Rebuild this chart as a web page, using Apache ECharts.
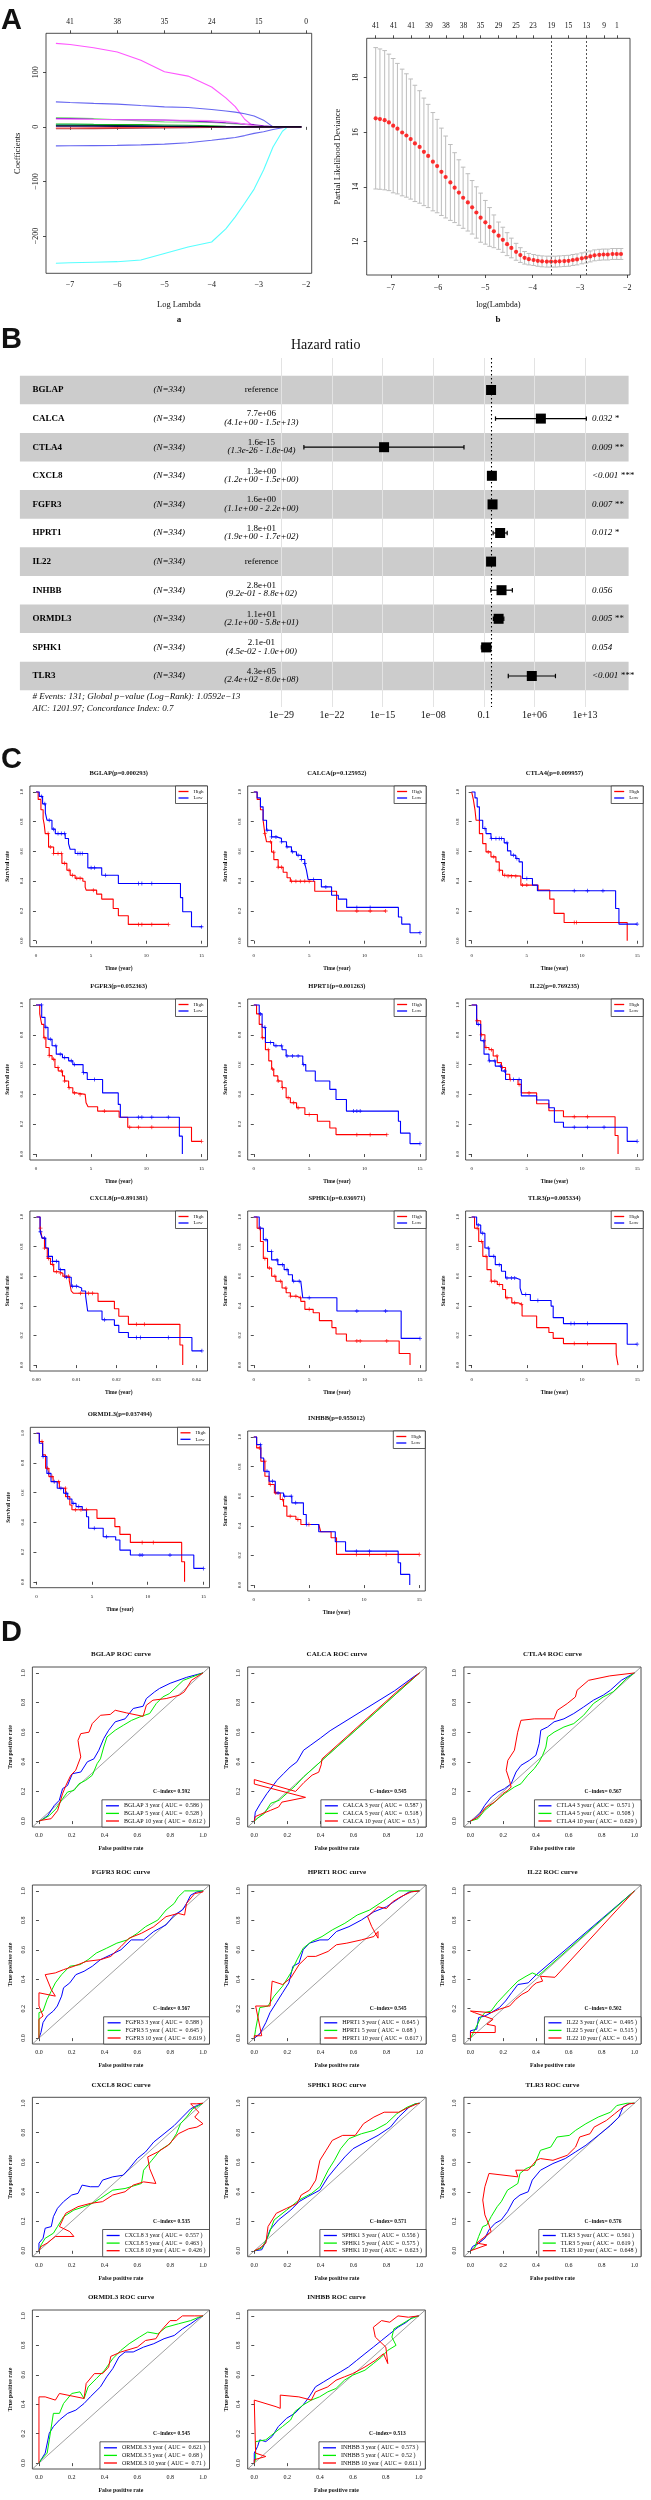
<!DOCTYPE html>
<html><head><meta charset="utf-8">
<script src="https://cdn.jsdelivr.net/npm/echarts@6/dist/echarts.min.js"></script>
<style>html,body{margin:0;padding:0;background:#fff}#c{width:651px;height:2500px}</style>
</head><body><div id="c"></div>
<script>
// ---------------- DATA: Panel A (LASSO) ----------------
const lassoLogLambda = [-7.3,-7.0,-6.5,-6.0,-5.5,-5.0,-4.5,-4.0,-3.7,-3.5,-3.3,-3.1,-2.9,-2.7,-2.5,-2.4,-2.3,-2.1];
const coefMagenta  = [153,151,145,137,122,101,93,73,53,37,14,0,0,0,0,0,0,0];
const coefBlueUp   = [45.8,44.5,43,41.6,39,36.6,35.4,31.8,29,27,24,20,12.3,0,0,0,0,0];
const coefCyan     = [-250,-249,-248,-247,-244,-232,-220,-211,-187,-165,-140,-114,-79,-37,-8,-1,0,0];
const coefBlueDown = [-34.8,-34.6,-34.3,-34,-33,-31.7,-29,-24.4,-21.5,-19.5,-16,-12,-9,-4.8,-1.5,0,0,0];
const coefGreen    = [17.2,16.5,15,13,11,9.2,8.5,8,6.5,5.5,4.5,3,1,0,0,0,0,0];
const coefPurple   = [15.4,15,14,13.5,13,12.3,11,9.2,7.5,6.5,5,4,2,0.5,0,0,0,0];
const coefPink     = [14,13.8,13.5,13,12.5,12,12,11.5,10,8,5,2,0,0,0,0,0,0];
const coefTeal     = [3.5,3.3,3,2.5,2,1.5,1,0.5,0,0,0,0,0,0,0,0,0,0];
const coefBlack    = [2,2,2,1.8,1.5,1.2,1,0.5,0.2,0,0,0,0,0,0,0,0,0];
const coefDarkRed  = [-3.5,-3.4,-3.2,-3,-2.5,-2,-1.5,-1,-0.5,0,0,0,0,0,0,0,0,0];
const coefRed      = [-2,-2,-1.8,-1.5,-1.2,-1,-0.8,-0.5,0,0,0,0,0,0,0,0,0,0];
const coefGreen2   = [5,5,4.5,4.2,4,3.5,3,2,1,0.5,0,0,0,0,0,0,0,0];
const coefNavy     = [1,1,1,0.9,0.8,0.7,0.5,0.3,0,0,0,0,0,0,0,0,0,0];
const lassoTopAt = [-7,-6,-5,-4,-3,-2];
const lassoTopDf = ['41','38','35','24','15','0'];

const cvLogLambda = [-7.32,-7.23,-7.13,-7.04,-6.95,-6.86,-6.76,-6.67,-6.58,-6.49,-6.39,-6.30,-6.21,-6.11,-6.02,-5.93,-5.84,-5.74,-5.65,-5.56,-5.47,-5.37,-5.28,-5.19,-5.10,-5.00,-4.91,-4.82,-4.72,-4.63,-4.54,-4.45,-4.35,-4.26,-4.17,-4.08,-3.98,-3.89,-3.80,-3.70,-3.61,-3.52,-3.43,-3.33,-3.24,-3.15,-3.06,-2.96,-2.87,-2.78,-2.69,-2.59,-2.50,-2.41,-2.31,-2.22,-2.13];
const cvDeviance = [16.51,16.48,16.44,16.36,16.24,16.13,15.99,15.88,15.75,15.59,15.46,15.28,15.13,14.92,14.76,14.55,14.36,14.16,13.97,13.79,13.60,13.43,13.25,13.06,12.87,12.70,12.53,12.37,12.21,12.06,11.90,11.76,11.62,11.50,11.40,11.35,11.32,11.29,11.27,11.26,11.26,11.26,11.27,11.28,11.29,11.32,11.34,11.38,11.41,11.45,11.49,11.51,11.52,11.52,11.54,11.54,11.54];
const cvHalfWidth = [2.59,2.57,2.55,2.50,2.46,2.39,2.32,2.26,2.20,2.13,2.06,1.97,1.89,1.80,1.71,1.60,1.50,1.39,1.28,1.20,1.12,1.05,0.98,0.94,0.90,0.80,0.71,0.60,0.50,0.46,0.42,0.36,0.31,0.27,0.23,0.21,0.20,0.20,0.20,0.20,0.20,0.20,0.20,0.20,0.20,0.20,0.20,0.20,0.20,0.20,0.20,0.20,0.20,0.20,0.20,0.20,0.20];
const cvLambdaMin = -3.60, cvLambda1se = -2.87;
const cvTopAt = [-7.32,-6.94,-6.57,-6.19,-5.83,-5.46,-5.10,-4.72,-4.35,-3.99,-3.60,-3.24,-2.86,-2.49,-2.22];
const cvTopDf = ['41','41','41','39','38','38','35','29','25','23','19','15','13','9','1'];

// ---------------- DATA: Panel B (forest) ----------------
const fGenes = ['BGLAP','CALCA','CTLA4','CXCL8','FGFR3','HPRT1','IL22','INHBB','ORMDL3','SPHK1','TLR3'];
const fN = 334;
const fHR   = [1, 7.7e6, 1.6e-15, 1.3, 1.6, 18, 1, 28, 11, 0.21, 4.3e5];
const fLow  = [null, 4.1, 1.3e-26, 1.2, 1.1, 1.9, null, 0.92, 2.1, 0.045, 240];
const fHigh = [null, 1.5e13, 1.8e-4, 1.5, 2.2, 170, null, 880, 58, 1.0, 8.0e8];
const fHRText = ['reference','7.7e+06','1.6e-15','1.3e+00','1.6e+00','1.8e+01','reference','2.8e+01','1.1e+01','2.1e-01','4.3e+05'];
const fCIText = ['','(4.1e+00 - 1.5e+13)','(1.3e-26 - 1.8e-04)','(1.2e+00 - 1.5e+00)','(1.1e+00 - 2.2e+00)','(1.9e+00 - 1.7e+02)','','(9.2e-01 - 8.8e+02)','(2.1e+00 - 5.8e+01)','(4.5e-02 - 1.0e+00)','(2.4e+02 - 8.0e+08)'];
const fP = ['','0.032 *','0.009 **','<0.001 ***','0.007 **','0.012 *','','0.056','0.005 **','0.054','<0.001 ***'];
const fTicks = [-29,-22,-15,-8,-1,6,13];
const fTickLabels = ['1e\u221229','1e\u221222','1e\u221215','1e\u221208','0.1','1e+06','1e+13'];
const fFoot1 = '# Events: 131; Global p\u2212value (Log\u2212Rank): 1.0592e\u221213';
const fFoot2 = 'AIC: 1201.97; Concordance Index: 0.7';

// ---------------- DATA: Panel C (KM) ----------------
const kmGenes = ['BGLAP','CALCA','CTLA4','FGFR3','HPRT1','IL22','CXCL8','SPHK1','TLR3','ORMDL3','INHBB'];
const kmP = ['0.000293','0.125952','0.009957','0.052363','0.001263','0.769235','0.891381','0.036971','0.005334','0.037494','0.955012'];
const kmBGLAPHigh = [[0,1],[0.2,0.95],[0.45,0.88],[0.65,0.82],[0.75,0.78],[0.84,0.72],[1.14,0.63],[1.6,0.586],[2.35,0.52],[2.8,0.474],[3.1,0.44],[3.55,0.42],[4.25,0.40],[4.46,0.36],[4.55,0.34],[5.5,0.313],[5.96,0.28],[7.0,0.217],[7.47,0.168],[8.37,0.11],[12.0,0.11]];
const kmBGLAPLow = [[0,1],[0.3,0.97],[0.6,0.92],[0.85,0.86],[1.0,0.81],[1.45,0.75],[1.75,0.72],[2.65,0.687],[2.95,0.653],[3.1,0.615],[3.55,0.586],[4.7,0.49],[5.96,0.44],[7.47,0.385],[13.1,0.29],[13.3,0.195],[14.1,0.094],[15.06,0.094]];
const kmCALCAHigh = [[0,1],[0.3,0.95],[0.6,0.88],[0.84,0.81],[1.0,0.72],[1.15,0.665],[1.6,0.596],[1.81,0.545],[2.2,0.494],[2.65,0.46],[3.0,0.423],[3.3,0.40],[5.5,0.333],[7.47,0.20],[11.9,0.20]];
const kmCALCALow = [[0,1],[0.3,0.96],[0.6,0.9],[0.84,0.81],[1.15,0.743],[1.6,0.698],[2.05,0.688],[2.5,0.665],[2.95,0.631],[3.4,0.598],[3.85,0.575],[4.3,0.546],[4.6,0.519],[4.75,0.475],[4.9,0.412],[6.1,0.362],[7.02,0.306],[7.63,0.28],[8.38,0.224],[13.05,0.16],[13.35,0.112],[14.1,0.054],[15.0,0.054]];
const kmCTLA4High = [[0,1],[0.15,0.95],[0.3,0.88],[0.4,0.81],[0.7,0.72],[1.0,0.653],[1.3,0.597],[1.75,0.564],[2.2,0.53],[2.5,0.474],[2.8,0.44],[3.25,0.434],[4.46,0.374],[6.02,0.34],[7.08,0.28],[7.47,0.184],[8.38,0.123],[14.1,0.0]];
const kmCTLA4Low = [[0,1],[0.3,0.96],[0.5,0.9],[0.7,0.81],[1.0,0.754],[1.3,0.72],[1.75,0.687],[2.95,0.658],[3.25,0.604],[3.55,0.575],[4.0,0.553],[4.3,0.53],[4.6,0.418],[5.51,0.374],[5.96,0.336],[13.05,0.217],[13.35,0.112],[15.0,0.112]];
const kmFGFR3High = [[0,1],[0.34,0.94],[0.52,0.87],[0.71,0.78],[0.9,0.715],[1.2,0.66],[1.46,0.636],[1.72,0.58],[2.02,0.557],[2.4,0.524],[2.59,0.49],[2.96,0.445],[3.34,0.41],[3.71,0.40],[4.46,0.39],[4.54,0.344],[4.72,0.317],[5.59,0.288],[7.54,0.247],[8.32,0.18],[14.1,0.085],[15.0,0.085]];
const kmFGFR3Low = [[0,1],[0.52,0.917],[0.82,0.85],[1.09,0.77],[1.46,0.726],[1.84,0.67],[2.4,0.647],[2.96,0.625],[3.34,0.60],[4.27,0.546],[4.65,0.50],[6.04,0.41],[7.46,0.333],[7.65,0.247],[13.0,0.12],[13.27,0.0]];
const kmHPRT1High = [[0,1],[0.25,0.94],[0.49,0.87],[0.75,0.78],[1.05,0.70],[1.35,0.625],[1.61,0.57],[1.8,0.524],[2.17,0.49],[2.55,0.445],[2.92,0.378],[3.3,0.344],[3.86,0.31],[4.61,0.265],[5.74,0.22],[6.86,0.175],[7.42,0.13],[12.0,0.13]];
const kmHPRT1Low = [[0,1],[0.49,0.94],[0.75,0.85],[1.05,0.748],[1.8,0.726],[2.55,0.70],[2.92,0.658],[4.42,0.60],[4.69,0.557],[5.55,0.49],[6.86,0.434],[7.42,0.366],[8.36,0.288],[13.05,0.22],[13.24,0.14],[14.1,0.07],[15.0,0.07]];
const kmIL22High = [[0,1],[0.45,0.894],[0.82,0.80],[1.2,0.715],[1.57,0.70],[1.95,0.658],[2.32,0.613],[2.7,0.58],[3.07,0.535],[3.45,0.50],[4.2,0.467],[4.5,0.41],[5.89,0.337],[7.0,0.29],[8.32,0.25],[13.0,0.124],[13.27,0.0]];
const kmIL22Low = [[0,1],[0.45,0.87],[0.82,0.76],[1.12,0.67],[1.57,0.625],[2.14,0.59],[2.7,0.557],[3.07,0.50],[4.5,0.39],[5.89,0.362],[7.0,0.31],[7.5,0.213],[8.32,0.18],[14.1,0.085],[15.0,0.085]];
const kmCXCL8High = [[0,1],[0.0009,0.924],[0.0014,0.857],[0.002,0.79],[0.0027,0.72],[0.0035,0.68],[0.0043,0.63],[0.0056,0.62],[0.0066,0.60],[0.0082,0.57],[0.0087,0.50],[0.0092,0.485],[0.0154,0.43],[0.0195,0.38],[0.0206,0.33],[0.023,0.275],[0.0359,0.136],[0.0366,0.0]];
const kmCXCL8Low = [[0,1],[0.0009,0.90],[0.0014,0.857],[0.0023,0.79],[0.003,0.734],[0.004,0.70],[0.0056,0.644],[0.0071,0.593],[0.0087,0.532],[0.0102,0.52],[0.0113,0.50],[0.0123,0.465],[0.0128,0.365],[0.0164,0.306],[0.0195,0.268],[0.0206,0.22],[0.023,0.186],[0.0389,0.096],[0.0414,0.096]];
const kmSPHK1High = [[0,1],[0.3,0.924],[0.6,0.834],[0.86,0.72],[1.24,0.655],[1.61,0.60],[1.99,0.566],[2.55,0.52],[2.92,0.488],[3.3,0.465],[3.86,0.454],[4.24,0.43],[4.61,0.376],[5.36,0.353],[5.92,0.30],[7.05,0.253],[7.42,0.21],[8.36,0.163],[13.12,0.078],[14.1,0.0]];
const kmSPHK1Low = [[0,1],[0.49,0.924],[0.86,0.846],[1.24,0.767],[1.61,0.71],[2.17,0.678],[2.74,0.644],[3.11,0.61],[3.49,0.566],[4.24,0.555],[4.42,0.454],[7.5,0.365],[13.3,0.18],[15.0,0.18]];
const kmTLR3High = [[0,1],[0.26,0.924],[0.64,0.834],[1.01,0.734],[1.39,0.644],[1.76,0.566],[2.32,0.544],[2.81,0.51],[3.07,0.454],[3.64,0.42],[4.2,0.41],[4.57,0.331],[5.89,0.253],[7.0,0.22],[7.39,0.18],[8.32,0.145],[13.1,0.07],[13.27,0.0]];
const kmTLR3Low = [[0,1],[0.45,0.946],[0.82,0.89],[1.2,0.79],[1.57,0.734],[2.14,0.678],[2.7,0.633],[3.07,0.588],[4.01,0.577],[4.39,0.52],[4.57,0.476],[5.32,0.436],[7.2,0.398],[7.39,0.32],[8.32,0.28],[14.1,0.141],[15.0,0.141]];
const kmORMDL3High = [[0,1],[0.26,0.944],[0.56,0.854],[0.82,0.764],[1.12,0.708],[1.5,0.674],[2.06,0.63],[2.62,0.573],[3.0,0.517],[3.19,0.485],[5.44,0.427],[7.05,0.371],[7.5,0.319],[8.44,0.265],[13.05,0.135],[13.31,0.0]];
const kmORMDL3Low = [[0,1],[0.26,0.933],[0.56,0.843],[0.94,0.73],[1.31,0.674],[1.87,0.63],[2.44,0.596],[2.81,0.557],[3.19,0.528],[3.56,0.506],[4.12,0.483],[4.5,0.438],[4.69,0.36],[6.0,0.303],[7.12,0.281],[7.5,0.213],[8.44,0.18],[14.14,0.09],[15.0,0.09]];
const kmINHBBHigh = [[0,1],[0.26,0.926],[0.64,0.836],[1.01,0.735],[1.39,0.679],[1.87,0.622],[2.4,0.578],[2.7,0.533],[3.0,0.465],[3.82,0.443],[4.27,0.409],[5.89,0.404],[6.07,0.36],[7.01,0.319],[7.5,0.207],[15.0,0.207]];
const kmINHBBLow = [[0,1],[0.26,0.948],[0.64,0.858],[0.9,0.768],[1.39,0.701],[1.95,0.622],[2.7,0.60],[3.45,0.555],[4.5,0.476],[4.76,0.409],[5.89,0.36],[7.39,0.292],[8.32,0.229],[13.09,0.151],[13.31,0.072],[14.14,0.0]];
// censoring times
const cenBGLAPHigh = [1.1,1.3,1.6,2.0,2.3,2.6,3.0,3.3,3.7,4.0,5.2,9.3,9.6,10.5,12.0];
const cenBGLAPLow = [0.5,0.8,1.2,1.6,2.0,2.3,2.6,3.8,4.0,4.2,5.0,5.3,6.3,9.3,9.6,10.5,15.0];
const cenCALCAHigh = [1.0,1.5,1.8,2.2,2.5,3.4,3.8,4.2,4.6,5.0,9.3,10.5,11.9];
const cenCALCALow = [1.2,1.6,2.0,2.5,3.0,3.5,4.0,4.3,4.6,5.4,6.5,9.3,10.5,15.0];
const cenCTLA4High = [1.5,2.0,2.5,3.0,3.3,3.6,4.0,4.6,5.0,9.3,9.5];
const cenCTLA4Low = [1.2,1.8,2.2,2.5,2.7,3.2,3.8,4.1,5.0,9.3,10.5,11.9,15.0];
const cenFGFR3High = [0.8,1.2,1.6,2.0,2.3,2.6,3.0,3.5,4.0,6.2,8.5,9.3,10.5,15.0];
const cenFGFR3Low = [0.5,0.9,1.3,1.8,2.2,2.6,3.2,3.5,4.3,5.3,9.3,9.6,10.5,12.0];
const cenHPRT1High = [0.8,1.3,1.7,2.2,2.6,3.1,3.6,4.0,5.0,9.3,10.5,12.0];
const cenHPRT1Low = [0.6,1.0,1.5,2.0,2.5,3.0,3.5,4.0,4.5,9.0,9.3,9.6,15.0];
const cenIL22High = [0.5,0.9,1.3,1.8,2.3,2.8,3.5,4.3,5.2,9.3,10.5];
const cenIL22Low = [0.6,1.1,1.6,2.1,2.6,3.0,3.8,4.3,9.3,10.5,12.0,15.0];
const cenCXCL8High = [0.001,0.002,0.003,0.004,0.005,0.006,0.007,0.008,0.011,0.013,0.014,0.025,0.027];
const cenCXCL8Low = [0.001,0.002,0.003,0.004,0.005,0.006,0.0075,0.009,0.01,0.017,0.025,0.026,0.033,0.0414];
const cenSPHK1High = [0.5,1.0,1.4,1.9,2.4,2.9,3.3,3.8,4.2,5.0,9.3,9.6,12.0];
const cenSPHK1Low = [0.6,1.1,1.6,2.1,2.6,3.0,3.6,4.1,5.0,9.3,11.9,15.0];
const cenTLR3High = [0.5,0.9,1.3,1.8,2.1,2.5,3.2,3.9,4.5,9.3,10.5];
const cenTLR3Low = [0.6,1.0,1.5,2.0,2.5,3.2,3.6,3.9,4.9,6.0,9.0,9.3,10.5,15.0];
const cenORMDL3High = [0.5,1.0,1.4,2.0,2.6,3.5,4.0,4.5,9.5,10.5];
const cenORMDL3Low = [0.6,1.1,1.6,2.2,2.7,3.3,3.8,5.2,6.3,9.3,9.5,12.0,15.0];
const cenINHBBHigh = [0.5,1.0,1.5,2.0,2.6,3.3,4.0,5.0,9.3,10.5,12.0,15.0];
const cenINHBBLow = [0.6,1.2,1.7,2.2,2.8,3.4,3.8,4.8,9.3,10.5];

// ---------------- DATA: Panel D (ROC) ----------------
const rocGenes = ['BGLAP','CALCA','CTLA4','FGFR3','HPRT1','IL22','CXCL8','SPHK1','TLR3','ORMDL3','INHBB'];
const rocAUC = [[0.586,0.528,0.612],[0.587,0.518,0.5],[0.571,0.508,0.629],[0.588,0.645,0.619],[0.645,0.68,0.617],[0.495,0.515,0.45],[0.557,0.463,0.426],[0.556,0.575,0.623],[0.561,0.619,0.648],[0.621,0.68,0.71],[0.573,0.52,0.611]];
const rocCIndex = ['0.592','0.545','0.567','0.567','0.545','0.502','0.535','0.571','0.576','0.545','0.513'];
const rocBGLAP3 = [[0,0],[0.014,0.005],[0.054,0.038],[0.094,0.106],[0.124,0.14],[0.144,0.219],[0.174,0.24],[0.204,0.32],[0.255,0.331],[0.295,0.40],[0.335,0.42],[0.365,0.478],[0.395,0.557],[0.425,0.613],[0.465,0.67],[0.525,0.69],[0.575,0.76],[0.635,0.775],[0.655,0.827],[0.705,0.872],[0.735,0.895],[0.8,0.93],[0.9,0.97],[1,1]];
const rocBGLAP5 = [[0,0],[0.014,0.005],[0.064,0.038],[0.104,0.083],[0.144,0.151],[0.174,0.196],[0.214,0.207],[0.244,0.252],[0.285,0.275],[0.325,0.309],[0.355,0.388],[0.375,0.42],[0.395,0.50],[0.415,0.568],[0.465,0.613],[0.515,0.647],[0.565,0.68],[0.615,0.703],[0.675,0.726],[0.715,0.793],[0.755,0.838],[0.795,0.86],[0.88,0.95],[1,1]];
const rocBGLAP10 = [[0,0],[0.014,0.005],[0.074,0.016],[0.114,0.072],[0.144,0.185],[0.164,0.24],[0.194,0.309],[0.224,0.343],[0.255,0.433],[0.244,0.50],[0.238,0.545],[0.255,0.59],[0.305,0.60],[0.325,0.658],[0.375,0.714],[0.435,0.72],[0.465,0.748],[0.535,0.73],[0.635,0.707],[0.655,0.782],[0.695,0.816],[0.776,0.827],[0.856,0.85],[0.886,0.872],[0.93,0.95],[1,1]];
const rocCALCA3 = [[0,0],[0.006,0.06],[0.036,0.117],[0.076,0.185],[0.107,0.23],[0.137,0.275],[0.177,0.32],[0.217,0.365],[0.258,0.40],[0.298,0.478],[0.338,0.51],[0.40,0.56],[0.459,0.61],[0.85,0.88],[0.96,0.97],[1,1]];
const rocCALCA5 = [[0,0],[0.02,0.02],[0.06,0.05],[0.1,0.12],[0.15,0.14],[0.2,0.19],[0.25,0.24],[0.3,0.3],[0.4,0.4],[0.88,0.88],[1,1]];
const rocCALCA10 = [[0,0],[0.006,0.03],[0.036,0.045],[0.097,0.072],[0.147,0.095],[0.167,0.128],[0.31,0.16],[0.0,0.25],[0.0,0.28],[0.25,0.2],[0.3,0.26],[0.35,0.31],[0.39,0.33],[0.405,0.38],[0.41,0.42],[0.87,0.88],[1,1]];
const rocCTLA43 = [[0,0],[0.026,0.016],[0.056,0.05],[0.087,0.106],[0.127,0.162],[0.167,0.196],[0.208,0.219],[0.248,0.252],[0.278,0.331],[0.308,0.376],[0.359,0.41],[0.399,0.444],[0.419,0.523],[0.429,0.613],[0.47,0.635],[0.51,0.67],[0.57,0.69],[0.63,0.726],[0.69,0.77],[0.75,0.816],[0.81,0.85],[0.853,0.883],[0.92,0.95],[1,1]];
const rocCTLA45 = [[0,0],[0.046,0.016],[0.087,0.072],[0.147,0.128],[0.208,0.185],[0.268,0.23],[0.308,0.252],[0.349,0.309],[0.389,0.354],[0.419,0.40],[0.44,0.444],[0.46,0.50],[0.47,0.568],[0.51,0.60],[0.57,0.635],[0.63,0.658],[0.69,0.714],[0.75,0.793],[0.81,0.838],[0.87,0.872],[0.95,0.96],[1,1]];
const rocCTLA410 = [[0,0],[0.046,0.027],[0.097,0.095],[0.147,0.128],[0.198,0.185],[0.228,0.207],[0.248,0.23],[0.238,0.275],[0.218,0.343],[0.228,0.41],[0.268,0.478],[0.288,0.60],[0.308,0.68],[0.389,0.69],[0.51,0.69],[0.53,0.748],[0.59,0.793],[0.64,0.838],[0.65,0.883],[0.72,0.95],[0.85,0.98],[1,1]];
const rocFGFR33 = [[0,0],[0.012,0.038],[0.025,0.106],[0.05,0.15],[0.088,0.184],[0.112,0.218],[0.138,0.285],[0.15,0.342],[0.188,0.375],[0.225,0.431],[0.275,0.454],[0.325,0.488],[0.375,0.533],[0.438,0.566],[0.5,0.6],[0.563,0.667],[0.638,0.667],[0.7,0.724],[0.775,0.769],[0.825,0.836],[0.875,0.87],[0.9,0.915],[0.925,0.971],[0.963,0.993],[1,1]];
const rocFGFR35 = [[0,0],[0,0.173],[0.025,0.184],[0.05,0.263],[0.075,0.319],[0.1,0.375],[0.138,0.431],[0.188,0.488],[0.25,0.499],[0.3,0.533],[0.35,0.578],[0.413,0.611],[0.475,0.645],[0.538,0.667],[0.6,0.712],[0.65,0.757],[0.725,0.802],[0.775,0.87],[0.825,0.915],[0.85,0.96],[0.888,1.0],[0.95,1.0],[1,1]];
const rocFGFR310 = [[0,0],[0,0.128],[0.025,0.15],[0,0.218],[0,0.308],[0.1,0.285],[0.075,0.33],[0.038,0.431],[0.1,0.443],[0.15,0.465],[0.213,0.488],[0.288,0.521],[0.375,0.533],[0.438,0.555],[0.5,0.622],[0.55,0.679],[0.625,0.712],[0.7,0.757],[0.775,0.825],[0.85,0.847],[0.888,0.836],[0.9,0.915],[0.95,0.982],[1.0,0.993],[1,1]];
const rocHPRT13 = [[0,0],[0.033,0.027],[0.07,0.106],[0.095,0.173],[0.133,0.24],[0.171,0.308],[0.209,0.375],[0.234,0.488],[0.271,0.51],[0.296,0.6],[0.334,0.645],[0.397,0.667],[0.447,0.667],[0.497,0.724],[0.573,0.757],[0.648,0.802],[0.724,0.858],[0.8,0.892],[0.874,0.948],[0.937,0.993],[1,1]];
const rocHPRT15 = [[0,0],[0.008,0.06],[0.033,0.207],[0.083,0.218],[0.12,0.285],[0.171,0.353],[0.221,0.443],[0.259,0.533],[0.296,0.611],[0.347,0.656],[0.41,0.69],[0.472,0.735],[0.548,0.78],[0.623,0.836],[0.698,0.87],[0.774,0.926],[0.849,0.982],[0.874,1.0],[1,1]];
const rocHPRT110 = [[0,0],[0,0.016],[0.045,0.016],[0.008,0.218],[0.095,0.218],[0.108,0.387],[0.171,0.364],[0.221,0.409],[0.271,0.499],[0.322,0.555],[0.372,0.555],[0.447,0.589],[0.497,0.634],[0.56,0.645],[0.648,0.667],[0.724,0.69],[0.749,0.724],[0.749,0.679],[0.711,0.757],[0.686,0.825],[0.749,0.892],[0.8,0.88],[0.837,0.926],[0.887,0.96],[0.95,0.993],[1,1]];
const rocIL223 = [[0,0],[0,0.05],[0.038,0.06],[0.05,0.14],[0.088,0.15],[0.126,0.173],[0.176,0.207],[0.214,0.252],[0.251,0.308],[0.289,0.364],[0.352,0.375],[0.402,0.431],[1,1]];
const rocIL225 = [[0,0],[0.013,0.027],[0.038,0.083],[0.063,0.14],[0.088,0.173],[0.126,0.184],[0.163,0.24],[0.201,0.285],[0.239,0.33],[0.289,0.387],[0.339,0.42],[0.377,0.443],[0.415,0.425],[1,1]];
const rocIL2210 = [[0,0],[0,0.038],[0.151,0.038],[0.151,0.083],[0.1,0.094],[0.138,0.128],[0.025,0.173],[0,0.184],[0.126,0.173],[0.176,0.196],[0.239,0.218],[0.276,0.263],[0.314,0.297],[0.352,0.319],[0.377,0.353],[0.402,0.375],[0.44,0.387],[0.427,0.42],[0.515,0.413],[1,1]];
const rocCXCL83 = [[0,0],[0,0.052],[0.025,0.085],[0.038,0.153],[0.075,0.164],[0.088,0.231],[0.113,0.288],[0.15,0.333],[0.2,0.378],[0.238,0.389],[0.263,0.445],[0.313,0.434],[0.363,0.434],[0.388,0.479],[0.45,0.501],[0.513,0.512],[0.55,0.557],[0.6,0.625],[0.65,0.67],[0.7,0.737],[0.763,0.793],[0.825,0.849],[0.875,0.906],[0.925,0.962],[0.963,0.984],[1,1]];
const rocCXCL85 = [[0,0],[0.013,0.04],[0.038,0.085],[0.088,0.119],[0.113,0.164],[0.15,0.231],[0.213,0.276],[0.275,0.299],[0.325,0.321],[0.375,0.355],[0.45,0.411],[0.525,0.422],[0.625,0.456],[0.638,0.546],[0.688,0.613],[0.738,0.681],[0.8,0.726],[0.838,0.793],[0.863,0.861],[0.9,0.906],[0.938,0.962],[0.975,0.984],[1,1]];
const rocCXCL810 = [[0,0],[0.013,0.029],[0.05,0.052],[0.1,0.097],[0.213,0.097],[0.188,0.13],[0.125,0.164],[0.163,0.254],[0.238,0.299],[0.313,0.321],[0.388,0.333],[0.45,0.378],[0.525,0.4],[0.575,0.445],[0.638,0.467],[0.713,0.456],[0.675,0.557],[0.663,0.636],[0.725,0.67],[0.788,0.715],[0.85,0.793],[0.913,0.827],[0.963,0.838],[1.0,0.861],[0.95,0.906],[0.975,0.939],[0.925,0.996],[0.963,0.996],[1,1]];
const rocSPHK13 = [[0,0],[0.045,0.007],[0.07,0.063],[0.095,0.142],[0.146,0.209],[0.221,0.276],[0.271,0.333],[0.322,0.366],[0.397,0.411],[0.447,0.501],[0.497,0.569],[0.548,0.636],[0.598,0.692],[0.673,0.737],[0.749,0.782],[0.824,0.838],[0.874,0.906],[0.937,0.973],[0.975,0.996],[1,1]];
const rocSPHK15 = [[0,0],[0.045,0.018],[0.083,0.097],[0.12,0.209],[0.196,0.276],[0.271,0.344],[0.347,0.389],[0.397,0.434],[0.447,0.546],[0.485,0.613],[0.523,0.692],[0.573,0.76],[0.648,0.793],[0.724,0.816],[0.799,0.861],[0.862,0.928],[0.925,0.973],[0.975,0.996],[1,1]];
const rocSPHK110 = [[0,0],[0.033,0.018],[0.07,0.052],[0.083,0.164],[0.133,0.254],[0.196,0.288],[0.259,0.321],[0.284,0.378],[0.334,0.411],[0.372,0.479],[0.397,0.613],[0.435,0.681],[0.472,0.748],[0.535,0.782],[0.611,0.782],[0.661,0.861],[0.724,0.906],[0.786,0.939],[0.874,0.939],[0.937,0.973],[0.987,0.996],[1,1]];
const rocTLR33 = [[0,0],[0.013,0.029],[0.05,0.052],[0.088,0.085],[0.113,0.142],[0.151,0.187],[0.188,0.209],[0.226,0.265],[0.264,0.344],[0.302,0.378],[0.352,0.4],[0.377,0.479],[0.427,0.546],[0.503,0.591],[0.578,0.625],[0.641,0.67],[0.704,0.715],[0.779,0.782],[0.854,0.849],[0.905,0.906],[0.93,0.973],[0.967,0.996],[1,1]];
const rocTLR35 = [[0,0],[0.025,0.018],[0.05,0.097],[0.075,0.164],[0.1,0.175],[0.126,0.231],[0.163,0.299],[0.188,0.333],[0.226,0.411],[0.289,0.456],[0.302,0.524],[0.339,0.557],[0.389,0.58],[0.427,0.681],[0.49,0.703],[0.528,0.771],[0.603,0.782],[0.641,0.816],[0.704,0.861],[0.779,0.906],[0.854,0.939],[0.892,0.984],[0.955,1.0],[1,1]];
const rocTLR310 = [[0,0],[0,0.007],[0.1,0.04],[0.038,0.052],[0.126,0.13],[0.113,0.175],[0.088,0.243],[0.075,0.344],[0.088,0.434],[0.113,0.524],[0.289,0.501],[0.276,0.546],[0.352,0.546],[0.402,0.613],[0.427,0.625],[0.503,0.613],[0.59,0.647],[0.641,0.703],[0.666,0.771],[0.729,0.793],[0.754,0.838],[0.829,0.883],[0.879,0.928],[0.93,0.973],[0.967,0.996],[1,1]];
const rocORMDL33 = [[0,0],[0.013,0.023],[0.038,0.068],[0.063,0.203],[0.088,0.248],[0.125,0.293],[0.175,0.338],[0.225,0.36],[0.275,0.405],[0.313,0.45],[0.375,0.518],[0.413,0.586],[0.45,0.642],[0.488,0.721],[0.525,0.755],[0.575,0.755],[0.638,0.788],[0.7,0.811],[0.763,0.845],[0.825,0.867],[0.875,0.912],[0.925,0.946],[0.975,0.986],[1,1]];
const rocORMDL35 = [[0,0],[0.013,0.023],[0.05,0.068],[0.063,0.158],[0.088,0.338],[0.125,0.338],[0.15,0.405],[0.2,0.473],[0.25,0.484],[0.275,0.439],[0.3,0.518],[0.35,0.574],[0.4,0.631],[0.45,0.709],[0.5,0.766],[0.55,0.811],[0.613,0.856],[0.663,0.89],[0.725,0.878],[0.775,0.923],[0.85,0.946],[0.925,0.968],[0.975,0.991],[1,1]];
const rocORMDL310 = [[0,0],[0,0.45],[0.038,0.45],[0.1,0.428],[0.125,0.473],[0.275,0.439],[0.288,0.541],[0.338,0.608],[0.388,0.608],[0.425,0.653],[0.438,0.725],[0.5,0.755],[0.6,0.788],[0.65,0.833],[0.713,0.845],[0.738,0.89],[0.763,0.923],[0.8,0.968],[0.838,0.968],[0.875,1.0],[0.95,1.0],[1,1]];
const rocINHBB3 = [[0,0],[0,0.068],[0.02,0.113],[0.033,0.158],[0.07,0.146],[0.108,0.18],[0.146,0.248],[0.196,0.304],[0.246,0.338],[0.296,0.394],[0.334,0.45],[0.372,0.518],[0.422,0.552],[0.472,0.586],[0.523,0.619],[0.573,0.653],[0.623,0.698],[0.673,0.743],[0.724,0.788],[0.774,0.833],[0.824,0.878],[0.874,0.923],[0.925,0.957],[0.962,0.991],[1,1]];
const rocINHBB5 = [[0,0],[0.008,0.023],[0.008,0.146],[0.07,0.158],[0.12,0.203],[0.171,0.248],[0.221,0.293],[0.246,0.349],[0.296,0.394],[0.347,0.428],[0.397,0.45],[0.447,0.484],[0.497,0.507],[0.548,0.563],[0.598,0.597],[0.673,0.631],[0.724,0.676],[0.774,0.721],[0.812,0.766],[0.862,0.8],[0.837,0.856],[0.849,0.912],[0.9,0.946],[0.95,0.98],[1,1]];
const rocINHBB10 = [[0,0],[0,0.023],[0.07,0.045],[0.008,0.068],[0,0.428],[0.133,0.383],[0.158,0.372],[0.158,0.462],[0.271,0.45],[0.347,0.428],[0.372,0.484],[0.447,0.518],[0.497,0.563],[0.548,0.586],[0.598,0.608],[0.673,0.653],[0.736,0.698],[0.786,0.743],[0.812,0.676],[0.8,0.788],[0.736,0.856],[0.724,0.923],[0.774,0.968],[0.824,0.957],[0.874,1.0],[0.937,0.991],[1,1]];

// ---------------- BUILD ----------------
const SERIF = '"Liberation Serif","Times New Roman",serif';
const SANS = '"Liberation Sans",Arial,sans-serif';
const grids=[], xAxes=[], yAxes=[], series=[], legends=[], graphics=[];
const INK = '#111';
function addGrid(l,t,r,b,show){ grids.push({left:l,top:t,width:r-l,height:b-t,show:show!==false,borderColor:'#222',borderWidth:0.8,backgroundColor:'transparent',containLabel:false,outerBoundsMode:'none'}); return grids.length-1; }
function lookupFmt(vals, labels){ return function(v){ for (let k=0;k<vals.length;k++){ if (Math.abs(vals[k]-v)<1e-9) return labels[k]; } return ''; }; }
function rAxis(gi, dir, min, max, vals, labels, fs, margin, extra){
  const o = {type:'value', gridIndex:gi, min:min, max:max,
    axisLine:{show:false}, splitLine:{show:false},
    axisTick:{show:true, customValues:vals, length:3, lineStyle:{color:'#222', width:0.8}},
    axisLabel:{customValues:vals, formatter:lookupFmt(vals,labels), fontSize:fs, fontFamily:SERIF, color:INK, margin:margin, hideOverlap:false}
  };
  if (extra) { for (const k in extra) { if (k==='axisLabel') Object.assign(o.axisLabel, extra[k]); else o[k]=extra[k]; } }
  const list = dir==='x'?xAxes:yAxes; list.push(o); return list.length-1;
}
function txt(x,y,text,font,align,extra){ const e={type:'text', x:x, y:y, silent:true, z:100, style:{text:text, font:font, fill:INK, align:align||'center', verticalAlign:'middle', textAlign:align||'center', textVerticalAlign:'middle'}}; if(extra) Object.assign(e,extra); graphics.push(e); }
function nameStyle(fs){ return {fontSize:fs, fontWeight:'bold', fontFamily:SERIF, color:INK}; }

// ---- Panel labels ----
txt(1,21,'A','bold 29px '+SANS,'left');
txt(1,340,'B','bold 29px '+SANS,'left');
txt(1,760,'C','bold 29px '+SANS,'left');
txt(1,1633,'D','bold 29px '+SANS,'left');

// ---- Panel A left: coefficient paths ----
(function(){
  const gi = addGrid(46,33.3,311.7,273.3);
  const xi = rAxis(gi,'x',-7.51,-1.88,[-7,-6,-5,-4,-3,-2],['\u22127','\u22126','\u22125','\u22124','\u22123','\u22122'],8,8,{name:'Log Lambda',nameLocation:'middle',nameGap:27,nameTextStyle:{fontSize:8.5,fontFamily:SERIF,color:INK}});
  rAxis(gi,'x',-7.51,-1.88,lassoTopAt,lassoTopDf,7.5,7,{position:'top'});
  const yi = rAxis(gi,'y',-268.3,171.4,[-200,-100,0,100],['\u2212200','\u2212100','0','100'],8,6,{name:'Coefficients',nameLocation:'middle',nameGap:24,nameTextStyle:{fontSize:8.5,fontFamily:SERIF,color:INK},axisLabel:{rotate:90}});
  const paths = [[coefCyan,'#44FFFF'],[coefMagenta,'#FF44FF'],[coefBlueUp,'#5555EE'],[coefBlueDown,'#5555EE'],[coefGreen,'#77DD77'],[coefPurple,'#8800CC'],[coefPink,'#FF77FF'],[coefGreen2,'#00AA00'],[coefTeal,'#009999'],[coefDarkRed,'#993333'],[coefRed,'#FF3333'],[coefNavy,'#000088'],[coefBlack,'#000000']];
  paths.forEach(function(p){ series.push({type:'line', xAxisIndex:xi, yAxisIndex:yi, data:lassoLogLambda.map(function(x,k){return [x,p[0][k]];}), showSymbol:false, symbol:'none', lineStyle:{color:p[1], width:1.1, opacity:0.9}, silent:true, z:3}); });
  txt(179,320,'a','bold 9px '+SERIF);
})();

// ---- Panel A right: CV deviance ----
(function(){
  const gi = addGrid(366.7,38.3,630,275);
  const xi = rAxis(gi,'x',-7.51,-1.94,[-7,-6,-5,-4,-3,-2],['\u22127','\u22126','\u22125','\u22124','\u22123','\u22122'],8,9,{name:'log(Lambda)',nameLocation:'middle',nameGap:25,nameTextStyle:{fontSize:8.5,fontFamily:SERIF,color:INK}});
  rAxis(gi,'x',-7.51,-1.94,cvTopAt,cvTopDf,7.5,8,{position:'top'});
  const yi = rAxis(gi,'y',10.77,19.44,[12,14,16,18],['12','14','16','18'],8,7,{name:'Partial Likelihood Deviance',nameLocation:'middle',nameGap:24,nameTextStyle:{fontSize:8.5,fontFamily:SERIF,color:INK},axisLabel:{rotate:90}});
  series.push({type:'custom', xAxisIndex:xi, yAxisIndex:yi, silent:true, z:2, clip:false,
    data: cvLogLambda.map(function(x,i){ return [x, cvDeviance[i]-cvHalfWidth[i], cvDeviance[i]+cvHalfWidth[i]]; }),
    renderItem: function(params, api){
      const lo = api.coord([api.value(0), api.value(1)]), hi = api.coord([api.value(0), api.value(2)]), w = 2.3;
      const st = {stroke:'#BDBDBD', lineWidth:1};
      return {type:'group', children:[
        {type:'line', shape:{x1:lo[0],y1:lo[1],x2:hi[0],y2:hi[1]}, style:st},
        {type:'line', shape:{x1:lo[0]-w,y1:lo[1],x2:lo[0]+w,y2:lo[1]}, style:st},
        {type:'line', shape:{x1:hi[0]-w,y1:hi[1],x2:hi[0]+w,y2:hi[1]}, style:st}]};
    }});
  series.push({type:'scatter', xAxisIndex:xi, yAxisIndex:yi, data:cvLogLambda.map(function(x,i){return [x,cvDeviance[i]];}), symbol:'circle', symbolSize:4.2, itemStyle:{color:'#FF0000'}, silent:true, z:4,
    markLine:{silent:true, symbol:['none','none'], label:{show:false}, lineStyle:{color:'#555', width:1, type:[2,2]}, data:[{xAxis:cvLambdaMin},{xAxis:cvLambda1se}]}});
  txt(498,320,'b','bold 9px '+SERIF);
})();

// ---- Panel B: forest plot ----
(function(){
  const fL=19.9, fR=628.6, fT=358, fB=707;
  const gi = addGrid(fL,fT,fR,fB,false);
  const xi = rAxis(gi,'x',-65.16,19.02,fTicks,fTickLabels,10,3,{axisTick:{show:false}});
  yAxes.push({type:'value', gridIndex:gi, min:-1.119, max:11.084, inverse:true, show:false});
  const yi = yAxes.length-1;
  series.push({type:'line', xAxisIndex:xi, yAxisIndex:yi, data:[[0,0]], showSymbol:false, symbol:'none', lineStyle:{opacity:0}, silent:true, z:1,
    markArea:{silent:true, itemStyle:{color:'#CCCCCC'}, data: fGenes.map(function(g,i){return i;}).filter(function(i){return i%2===0;}).map(function(i){ return [{yAxis:i-0.5},{yAxis:i+0.5}]; })}});
  series.push({type:'line', xAxisIndex:xi, yAxisIndex:yi, data:[[0,0]], showSymbol:false, symbol:'none', lineStyle:{opacity:0}, silent:true, z:2,
    markLine:{silent:true, symbol:['none','none'], label:{show:false}, lineStyle:{color:'#E3E3E3', width:1, type:'solid'}, data: fTicks.map(function(v){return {xAxis:v};})}});
  series.push({type:'line', xAxisIndex:xi, yAxisIndex:yi, data:[[0,0]], showSymbol:false, symbol:'none', lineStyle:{opacity:0}, silent:true, z:3,
    markLine:{silent:true, symbol:['none','none'], label:{show:false}, lineStyle:{color:'#000', width:1.1, type:[1.5,2.5]}, data:[{xAxis:0}]}});
  series.push({type:'custom', xAxisIndex:xi, yAxisIndex:yi, silent:true, z:5, clip:false,
    data: fGenes.map(function(g,i){ return [Math.log10(fHR[i]), i]; }),
    renderItem: function(params, api){
      const i = params.dataIndex;
      const y = api.coord([0,i])[1];
      const ch = [];
      const T = function(x,yy,text,font,align){ ch.push({type:'text', x:x, y:yy, style:{text:text, font:font, fill:'#000', align:align, verticalAlign:'middle'}}); };
      T(32.4, y, fGenes[i], 'bold 9px '+SERIF, 'left');
      T(153.5, y, '(N='+fN+')', 'italic 9px '+SERIF, 'left');
      if (fCIText[i]) { T(261.4, y-4.5, fHRText[i], '9px '+SERIF, 'center'); T(261.4, y+3.8, fCIText[i], 'italic 9px '+SERIF, 'center'); }
      else { T(261.4, y, fHRText[i], '9px '+SERIF, 'center'); }
      if (fP[i]) T(592, y, fP[i], 'italic 9px '+SERIF, 'left');
      if (fLow[i] !== null) {
        const xl = api.coord([Math.log10(fLow[i]), i])[0], xh = api.coord([Math.log10(fHigh[i]), i])[0];
        const st = {stroke:'#000', lineWidth:1.2};
        ch.push({type:'line', shape:{x1:xl,y1:y,x2:xh,y2:y}, style:st});
        ch.push({type:'line', shape:{x1:xl,y1:y-2.2,x2:xl,y2:y+2.2}, style:st});
        ch.push({type:'line', shape:{x1:xh,y1:y-2.2,x2:xh,y2:y+2.2}, style:st});
      }
      const xc = api.coord([Math.log10(fHR[i]), i])[0];
      ch.push({type:'rect', shape:{x:xc-5, y:y-5, width:10, height:10}, style:{fill:'#000'}});
      return {type:'group', children:ch};
    }});
  txt(325.7,345,'Hazard ratio','14px '+SERIF);
  txt(32.4,697,fFoot1,'italic 9px '+SERIF,'left');
  txt(32.4,708.5,fFoot2,'italic 9px '+SERIF,'left');
})();

// ---- Panel C: KM plots ----
const PLUS = 'path://M4,0H6V4H10V6H6V10H4V6H0V4H4Z';
function stepAt(curve, t){ let s = curve[0][1]; for (let k=0;k<curve.length;k++){ if (curve[k][0] <= t + 1e-12) s = curve[k][1]; else break; } return s; }
const yTickVals=[0,0.2,0.4,0.6,0.8,1.0], yTickLabels=['0.0','0.2','0.4','0.6','0.8','1.0'];
function kmPlot(box, title, hi, lo, cHi, cLo, xr, xVals, xLabels){
  const gi = addGrid(box[0],box[1],box[2],box[3]);
  const xi = rAxis(gi,'x',xr[0],xr[1],xVals,xLabels,5,6.5,{name:'Time (year)',nameLocation:'middle',nameGap:19,nameTextStyle:nameStyle(5.5)});
  const yi = rAxis(gi,'y',-0.04,1.04,yTickVals,yTickLabels,5,5.5,{name:'Survival rate',nameLocation:'middle',nameGap:19,nameTextStyle:nameStyle(5.5),axisLabel:{rotate:90}});
  [[hi,'#FF0000','High',cHi],[lo,'#0000FF','Low',cLo]].forEach(function(c){
    series.push({type:'line', name:c[2], xAxisIndex:xi, yAxisIndex:yi, data:c[0], step:'end', showSymbol:false, symbol:'none', lineStyle:{color:c[1], width:1.1}, itemStyle:{color:c[1]}, silent:true, z:3});
    series.push({type:'scatter', name:'cens'+c[2], xAxisIndex:xi, yAxisIndex:yi, data:c[3].map(function(t){return [t, stepAt(c[0],t)];}), symbol:PLUS, symbolSize:4, itemStyle:{color:c[1]}, silent:true, z:4});
  });
  legends.push({show:true, orient:'vertical', right:651-box[2], top:box[1], data:['High','Low'], icon:'rect', itemWidth:10, itemHeight:1.3, itemGap:1.5, padding:[3,4,3,3], borderColor:'#333', borderWidth:0.8, backgroundColor:'#fff', selectedMode:false, textStyle:{fontSize:5, fontFamily:SERIF, color:INK}, z:20});
  txt((box[0]+box[2])/2, box[1]-12.5, title, 'bold 6.5px '+SERIF);
}
const kmCols = [[29.9,207.5],[247.7,426.1],[465.6,643.2]];
const kmRows = [[786,946.7],[999,1160],[1211,1371],[1427.3,1587.7]];
const t15 = [0,5,10,15], t15L = ['0','5','10','15'];
const kmCurves = [[kmBGLAPHigh,kmBGLAPLow,cenBGLAPHigh,cenBGLAPLow],[kmCALCAHigh,kmCALCALow,cenCALCAHigh,cenCALCALow],[kmCTLA4High,kmCTLA4Low,cenCTLA4High,cenCTLA4Low],
  [kmFGFR3High,kmFGFR3Low,cenFGFR3High,cenFGFR3Low],[kmHPRT1High,kmHPRT1Low,cenHPRT1High,cenHPRT1Low],[kmIL22High,kmIL22Low,cenIL22High,cenIL22Low],
  [kmCXCL8High,kmCXCL8Low,cenCXCL8High,cenCXCL8Low],[kmSPHK1High,kmSPHK1Low,cenSPHK1High,cenSPHK1Low],[kmTLR3High,kmTLR3Low,cenTLR3High,cenTLR3Low],
  [kmORMDL3High,kmORMDL3Low,cenORMDL3High,cenORMDL3Low],[kmINHBBHigh,kmINHBBLow,cenINHBBHigh,cenINHBBLow]];
kmCurves.forEach(function(c, k){
  const col = k%3, row = Math.floor(k/3);
  let box = [kmCols[col][0], kmRows[row][0], kmCols[col][1], kmRows[row][1]];
  if (k===10) box = [247.7,1431,425.3,1591];
  if (k===9) box = [30.3,1427.3,209.5,1587.7];
  const title = kmGenes[k]+'(p='+kmP[k]+')';
  if (kmGenes[k]==='CXCL8') kmPlot(box,title,c[0],c[1],c[2],c[3],[-0.00165,0.0428],[0,0.01,0.02,0.03,0.04],['0.00','0.01','0.02','0.03','0.04']);
  else kmPlot(box,title,c[0],c[1],c[2],c[3],[-0.55,15.55],t15,t15L);
});

// ---- Panel D: ROC plots ----
function rocPlot(box, gene, curves, auc, cidx){
  const gi = addGrid(box[0],box[1],box[2],box[3]);
  const xi = rAxis(gi,'x',-0.04,1.04,yTickVals,yTickLabels,6,5.5,{name:'False positive rate',nameLocation:'middle',nameGap:18.5,nameTextStyle:nameStyle(5.8)});
  const yi = rAxis(gi,'y',-0.04,1.04,yTickVals,yTickLabels,6,6,{name:'True positive rate',nameLocation:'middle',nameGap:18.5,nameTextStyle:nameStyle(5.8),axisLabel:{rotate:90}});
  series.push({type:'line', name:'diag'+gene, xAxisIndex:xi, yAxisIndex:yi, data:[[-0.04,-0.04],[1.04,1.04]], showSymbol:false, symbol:'none', lineStyle:{color:'#777', width:0.7}, silent:true, z:2});
  const yrs = ['3','5','10'], cols = ['#0000FF','#00EE00','#FF0000'];
  const names = [];
  curves.forEach(function(d, j){
    const nm = gene+' '+yrs[j]+' year ( AUC =  '+auc[j]+' )';
    names.push(nm);
    series.push({type:'line', name:nm, xAxisIndex:xi, yAxisIndex:yi, data:d, showSymbol:false, symbol:'none', lineStyle:{color:cols[j], width:1}, itemStyle:{color:cols[j]}, silent:true, z:3+j});
  });
  legends.push({show:true, orient:'vertical', right:651-box[2], bottom:2500-box[3], data:names, icon:'rect', itemWidth:13, itemHeight:1.3, itemGap:1.6, padding:[3,4,3,4], borderColor:'#333', borderWidth:0.8, backgroundColor:'#fff', selectedMode:false, textStyle:{fontSize:6, fontFamily:SERIF, color:INK}, z:20});
  txt(box[2]-38, box[3]-35.5, 'C\u2212index= '+cidx, 'bold 5.5px '+SERIF);
  txt((box[0]+box[2])/2, box[1]-12.5, gene+' ROC curve', 'bold 7px '+SERIF);
}
const rocCols = [[32.4,209.5],[247.7,426.1],[463.9,641]];
const rocRows = [[1667,1827],[1885,2044],[2097.3,2256.7],[2310,2469]];
const rocCurves = [[rocBGLAP3,rocBGLAP5,rocBGLAP10],[rocCALCA3,rocCALCA5,rocCALCA10],[rocCTLA43,rocCTLA45,rocCTLA410],
  [rocFGFR33,rocFGFR35,rocFGFR310],[rocHPRT13,rocHPRT15,rocHPRT110],[rocIL223,rocIL225,rocIL2210],
  [rocCXCL83,rocCXCL85,rocCXCL810],[rocSPHK13,rocSPHK15,rocSPHK110],[rocTLR33,rocTLR35,rocTLR310],
  [rocORMDL33,rocORMDL35,rocORMDL310],[rocINHBB3,rocINHBB5,rocINHBB10]];
rocCurves.forEach(function(c, k){
  const col = k%3, row = Math.floor(k/3);
  let box = [rocCols[col][0], rocRows[row][0], rocCols[col][1], rocRows[row][1]];
  if (k===10) box = [247.7,2310,425.3,2469];
  rocPlot(box, rocGenes[k], c, rocAUC[k], rocCIndex[k]);
});

const chart = echarts.init(document.getElementById('c'), null, {renderer:'canvas', width:651, height:2500});
chart.setOption({animation:false, backgroundColor:'#ffffff', textStyle:{fontFamily:SERIF}, tooltip:{show:false},
  grid:grids, xAxis:xAxes, yAxis:yAxes, series:series, legend:legends, graphic:{elements:graphics}});
</script></body></html>
